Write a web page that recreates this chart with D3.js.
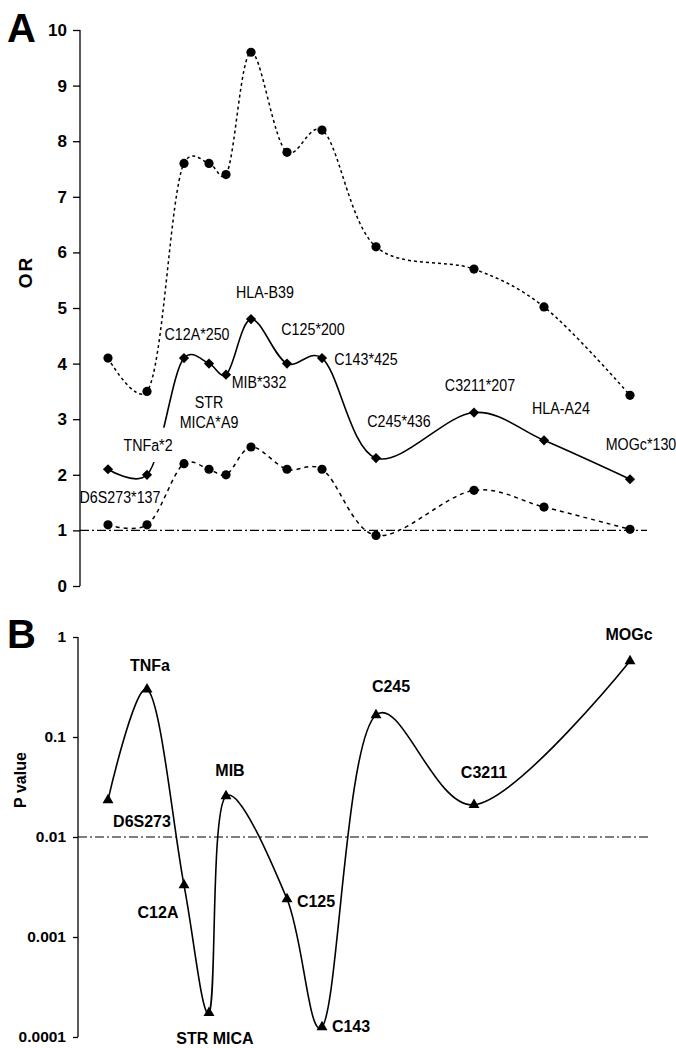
<!DOCTYPE html>
<html>
<head>
<meta charset="utf-8">
<script src="https://cdn.jsdelivr.net/npm/d3@7"></script>
<style>
  body { margin: 0; background: #fff; }
  svg { display: block; font-family: "Liberation Sans", Arial, sans-serif; }
  .tick text { font-weight: bold; font-size: 17px; }
  .axisB .tick text { font-size: 15.5px; }
  .lblA { font-size: 17px; }
  .lblB { font-size: 16px; font-weight: bold; }
</style>
</head>
<body>
<div id="chart"></div>
<script>
/*
	Two-panel marker chart: OR with confidence limits (A), P value on log scale (B)
*/

// markers along the chromosome, relative map position
var markersA = ["D6S273", "TNFa", "C12A", "STR MICA", "MIB", "HLA-B39", "C125", "C143", "C245", "C3211", "HLA-A24", "MOGc"];
var mapPosA  = [0, 39, 76, 101, 118, 143, 179, 214, 268, 366, 436, 522];
var labelsA  = ["D6S273*137", "TNFa*2", "C12A*250", "STR\nMICA*A9", "MIB*332", "HLA-B39", "C125*200", "C143*425", "C245*436", "C3211*207", "HLA-A24", "MOGc*130"];

// odds ratio and 95% limits
var orValues = [2.1, 2.0, 4.1, 4.0, 3.8, 4.8, 4.0, 4.1, 2.3, 3.12, 2.62, 1.92];
var orUpper  = [4.1, 3.5, 7.6, 7.6, 7.4, 9.6, 7.8, 8.2, 6.1, 5.7, 5.02, 3.43];
var orLower  = [1.1, 1.1, 2.2, 2.1, 2.0, 2.5, 2.1, 2.1, 0.91, 1.72, 1.42, 1.02];
var orTicks  = [0, 1, 2, 3, 4, 5, 6, 7, 8, 9, 10];

// panel B
var markersB = ["D6S273", "TNFa", "C12A", "STR MICA", "MIB", "C125", "C143", "C245", "C3211", "MOGc"];
var mapPosB  = [0, 39, 76, 101, 118, 179, 214, 268, 366, 522];
var pValues  = [0.0234, 0.30, 0.0033, 0.000174, 0.0257, 0.0024, 0.000126, 0.166, 0.021, 0.575];
var pTicks   = [1, 0.1, 0.01, 0.001, 0.0001];
var pTickLabels = ["1", "0.1", "0.01", "0.001", "0.0001"];

// label offsets (pixels from the point: centre x, baseline y)
var offA = {
    "D6S273": [12, 34], "TNFa": [1, -24], "C12A": [13, -18], "STR MICA": [0, 44],
    "MIB": [33, 13], "HLA-B39": [14, -21], "C125": [26, -29], "C143": [44, 7],
    "C245": [23, -31], "C3211": [6, -22], "HLA-A24": [17, -26], "MOGc": [11, -29]
};
var offB = {
    "D6S273": [34, 27], "TNFa": [3, -18], "C12A": [-26, 33], "STR MICA": [6, 31],
    "MIB": [4, -20], "C125": [29, 8], "C143": [29, 5], "C245": [15, -23],
    "C3211": [10, -27], "MOGc": [-1, -21]
};

var W = 676, H = 1048;

var svg = d3.select("#chart").append("svg")
    .attr("width", W)
    .attr("height", H);

// shared x scale
var xScale = d3.scaleLinear()
    .domain([0, 522])
    .range([108, 630]);

var curve = d3.curveCatmullRom.alpha(0.25);

// ---------------- Panel A ----------------
var yA = d3.scaleLinear()
    .domain([0, 10])
    .range([586, 30]);

var axisA = d3.axisLeft(yA)
    .tickValues(orTicks)
    .tickFormat(d3.format("d"))
    .tickSize(7)
    .tickPadding(6);

var gA = svg.append("g")
    .attr("transform", "translate(80,0)")
    .call(axisA);
gA.select(".domain").attr("d", "M0," + yA(0) + "V" + yA(10)).attr("stroke", "#000").attr("stroke-width", 1.3);
gA.selectAll(".tick line").attr("stroke-width", 1.3);
gA.selectAll(".tick text").attr("fill", "#000");

// reference line OR = 1
svg.append("line")
    .attr("x1", 80).attr("x2", 647)
    .attr("y1", yA(1)).attr("y2", yA(1))
    .attr("stroke", "#000")
    .attr("stroke-width", 1.2)
    .attr("stroke-dasharray", "9,3,2,3");

var idxA = d3.range(markersA.length);

function lineA(vals) {
    return d3.line()
        .x(function(i) { return xScale(mapPosA[i]); })
        .y(function(i) { return yA(vals[i]); })
        .curve(curve);
}

svg.append("path").datum(idxA)
    .attr("d", lineA(orUpper))
    .attr("fill", "none").attr("stroke", "#000").attr("stroke-width", 1.5)
    .attr("stroke-dasharray", "3,3");

svg.append("path").datum(idxA)
    .attr("d", lineA(orLower))
    .attr("fill", "none").attr("stroke", "#000").attr("stroke-width", 1.5)
    .attr("stroke-dasharray", "4,4");

svg.append("path").datum(idxA)
    .attr("d", lineA(orValues))
    .attr("fill", "none").attr("stroke", "#000").attr("stroke-width", 1.6);

// circles for limits
[orUpper, orLower].forEach(function(vals) {
    svg.append("g").selectAll("circle")
        .data(idxA)
        .enter()
    .append("circle")
        .attr("cx", function(i) { return xScale(mapPosA[i]); })
        .attr("cy", function(i) { return yA(vals[i]); })
        .attr("r", 4.6)
        .attr("fill", "#000");
});

// diamonds for OR
svg.append("g").selectAll("path")
    .data(idxA)
    .enter()
.append("path")
    .attr("d", d3.symbol().type(d3.symbolSquare).size(52))
    .attr("transform", function(i) { return "translate(" + xScale(mapPosA[i]) + "," + yA(orValues[i]) + ") rotate(45)"; })
    .attr("fill", "#000");

// labels (condensed, like Arial Narrow)
var labA = svg.append("g").selectAll("text")
    .data(idxA)
    .enter()
.append("text")
    .attr("class", "lblA")
    .attr("text-anchor", "middle")
    .attr("transform", function(i) {
        return "translate(" + (xScale(mapPosA[i]) + offA[markersA[i]][0]) + "," +
            (yA(orValues[i]) + offA[markersA[i]][1]) + ") scale(0.84,1)";
    });

labA.each(function(i) {
    var el = d3.select(this);
    labelsA[i].split("\n").forEach(function(s, k) {
        el.append("tspan").attr("x", 0).attr("dy", k === 0 ? 0 : 20).text(s);
    });
});

// the TNFa label sits on top of the OR line
labA.filter(function(i) { return markersA[i] === "TNFa"; }).each(function() {
    var bb = this.getBBox();
    d3.select(this.parentNode).insert("rect", function() { return this.firstChild; })
        .attr("transform", d3.select(this).attr("transform"))
        .attr("x", bb.x - 2).attr("y", bb.y - 8)
        .attr("width", bb.width + 4).attr("height", bb.height + 16)
        .attr("fill", "#fff");
});

svg.append("text")
    .attr("transform", "translate(32,272) rotate(-90)")
    .attr("text-anchor", "middle")
    .style("font-weight", "bold")
    .style("font-size", "19px")
    .style("letter-spacing", "2px")
    .text("OR");

svg.append("text")
    .attr("x", 7).attr("y", 42)
    .style("font-weight", "bold")
    .style("font-size", "40px")
    .text("A");

// ---------------- Panel B ----------------
var yB = d3.scaleLog()
    .domain([0.0001, 1])
    .range([1037, 637]);

var axisB = d3.axisLeft(yB)
    .tickValues(pTicks)
    .tickFormat(function(d, i) { return pTickLabels[i]; })
    .tickSize(5)
    .tickPadding(7);

var gB = svg.append("g")
    .attr("class", "axisB")
    .attr("transform", "translate(78,0)")
    .call(axisB);
gB.select(".domain").attr("d", "M0," + yB(0.0001) + "V" + yB(1)).attr("stroke", "#000").attr("stroke-width", 1.3);
gB.selectAll(".tick line").attr("stroke-width", 1.3);
gB.selectAll(".tick text").attr("fill", "#000");

// significance line P = 0.01
svg.append("line")
    .attr("x1", 78).attr("x2", 650)
    .attr("y1", yB(0.01)).attr("y2", yB(0.01))
    .attr("stroke", "#000")
    .attr("stroke-width", 1.2)
    .attr("stroke-dasharray", "9,3,2,3");

var idxB = d3.range(markersB.length);

svg.append("path").datum(idxB)
    .attr("d", d3.line()
        .x(function(i) { return xScale(mapPosB[i]); })
        .y(function(i) { return yB(pValues[i]); })
        .curve(curve))
    .attr("fill", "none").attr("stroke", "#000").attr("stroke-width", 1.6);

svg.append("g").selectAll("path")
    .data(idxB)
    .enter()
.append("path")
    .attr("d", d3.symbol().type(d3.symbolTriangle).size(52))
    .attr("transform", function(i) { return "translate(" + xScale(mapPosB[i]) + "," + yB(pValues[i]) + ")"; })
    .attr("fill", "#000");

svg.append("g").selectAll("text")
    .data(idxB)
    .enter()
.append("text")
    .attr("class", "lblB")
    .attr("text-anchor", "middle")
    .attr("x", function(i) { return xScale(mapPosB[i]) + offB[markersB[i]][0]; })
    .attr("y", function(i) { return yB(pValues[i]) + offB[markersB[i]][1]; })
    .text(function(i) { return markersB[i]; });

svg.append("text")
    .attr("transform", "translate(26,780) rotate(-90)")
    .attr("text-anchor", "middle")
    .style("font-weight", "bold")
    .style("font-size", "16px")
    .text("P value");

svg.append("text")
    .attr("x", 7).attr("y", 648)
    .style("font-weight", "bold")
    .style("font-size", "40px")
    .text("B");
</script>
</body>
</html>
